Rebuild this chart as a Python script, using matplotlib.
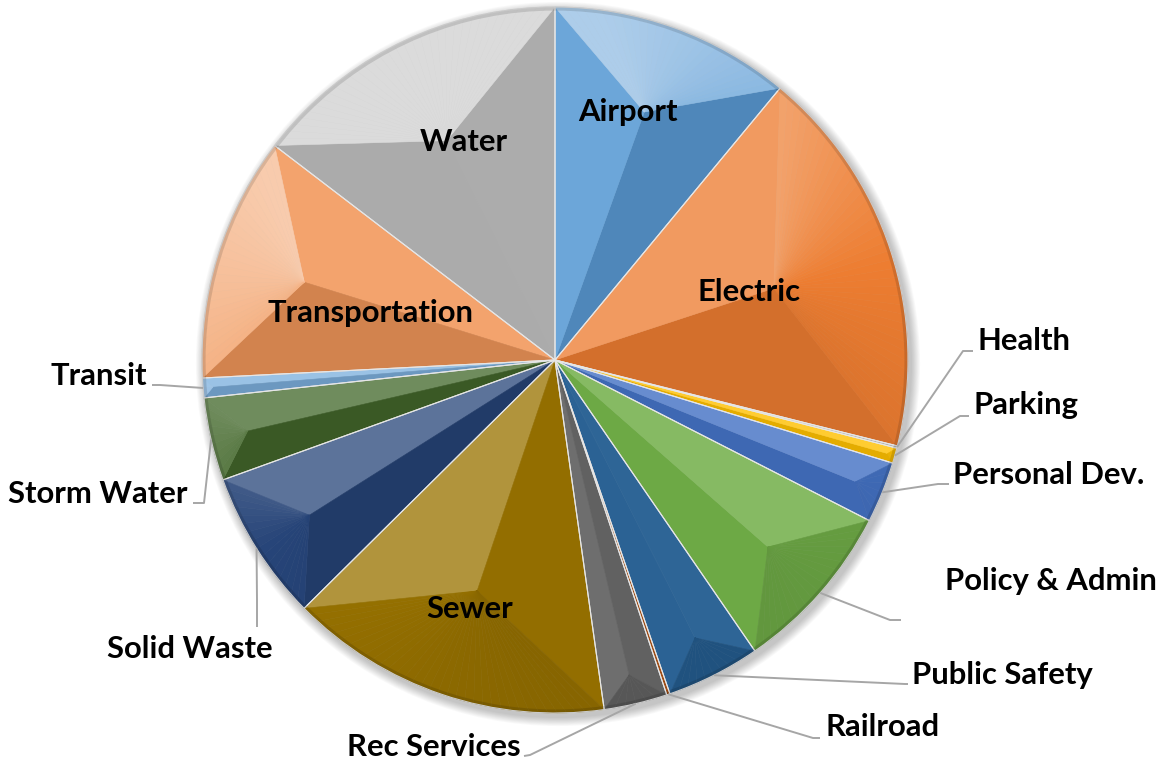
import numpy as np
import matplotlib
matplotlib.use('Agg')
import matplotlib.pyplot as plt
from matplotlib.patches import Polygon, Circle
from matplotlib.colors import to_rgb

# ---------------- data ----------------
categories = ['Airport', 'Electric', 'Health', 'Parking', 'Personal Dev.',
              'Policy & Admin', 'Public Safety', 'Railroad', 'Rec Services',
              'Sewer', 'Solid Waste', 'Storm Water', 'Transit',
              'Transportation', 'Water']
values = [11.0, 17.9, 0.1, 0.7, 2.8, 7.9, 4.3, 0.15, 2.9, 14.8, 6.9, 3.8,
          0.9, 11.2, 14.6]
colors = ['#5b9bd5', '#ed7d31', '#a5a5a5', '#ffc000', '#4472c4', '#70ad47',
          '#255e91', '#9e480e', '#636363', '#997300', '#264478', '#43682b',
          '#7cafdd', '#f1975a', '#b7b7b7']

# ---------------- layout (pixel coords, y from top) ----------------
W, H = 1163, 763
CX, CY, RAD = 555, 360, 353

inside_pos = {
    'Airport': (628, 112), 'Electric': (749, 292), 'Water': (464, 142),
    'Transportation': (370, 313), 'Sewer': (470, 609),
}
# text pos, ha, elbow, line end
outside_pos = {
    'Health': ((977, 341), 'left', (963, 351), (973, 351)),
    'Parking': ((974, 405), 'left', (960, 416), (969, 416)),
    'Personal Dev.': ((953, 475), 'left', (938, 484), (949, 484)),
    'Policy & Admin': ((945, 581), 'left', (890, 620), (901, 620)),
    'Public Safety': ((912, 675), 'left', (905, 684), (908, 684)),
    'Railroad': ((825, 727), 'left', (813, 738), (820, 738)),
    'Rec Services': ((521, 747), 'right', (530, 755), (524, 756)),
    'Solid Waste': ((190, 649), 'center', (257, 600), (257, 627)),
    'Storm Water': ((187, 494), 'right', (204, 503), (193, 503)),
    'Transit': ((147, 376), 'right', (160, 385), (152, 385)),
}

FONT = ['Lato', 'DejaVu Sans']
FS = 22.3


def P(x, y):
    return (x, H - y)


fig = plt.figure(figsize=(W / 100, H / 100), dpi=100)
ax = fig.add_axes([0, 0, 1, 1])

cx, cy = P(CX, CY)
wedges, _ = ax.pie(values, colors=colors, startangle=90, counterclock=False,
                   radius=RAD, center=(cx, cy),
                   wedgeprops=dict(linewidth=0.8, edgecolor='#e6e6e6'))
ax.set_xlim(0, W)
ax.set_ylim(0, H)
ax.set_aspect('equal')
ax.axis('off')

# soft drop shadow
for k in range(10):
    ax.add_patch(Circle((cx + 3, cy - 4), RAD + 1 + k * 0.9, facecolor='#000000',
                        alpha=0.025, edgecolor='none', zorder=0))

LANG = np.radians(115)
L = np.array([np.cos(LANG), np.sin(LANG)])


def shade(col, ang, up, down, bias=0.0):
    f = np.cos(ang) * L[0] + np.sin(ang) * L[1] + bias
    f = max(-1.0, min(1.0, f))
    c = np.array(to_rgb(col))
    if f > 0:
        return tuple(c + (1 - c) * up * f)
    return tuple(c * (1 - down * (-f)))


for w in wedges:
    col = w.get_facecolor()[:3]
    a1, a2 = np.radians(w.theta1), np.radians(w.theta2)
    c = np.array(w.center)
    r = w.r
    h = (a2 - a1) / 2
    m = (a1 + a2) / 2
    s = r / (1 + np.sin(h))
    p = c + s * np.array([np.cos(m), np.sin(m)])
    e1 = c + r * np.array([np.cos(a1), np.sin(a1)])
    e2 = c + r * np.array([np.cos(a2), np.sin(a2)])
    f1 = shade(col, a1 - np.pi / 2, 0.25, 0.14)
    f2 = shade(col, a2 + np.pi / 2, 0.25, 0.14)
    ax.add_patch(Polygon([c, e1, p], closed=True, facecolor=f1, edgecolor=f1,
                         linewidth=0.4, zorder=2))
    ax.add_patch(Polygon([c, p, e2], closed=True, facecolor=f2, edgecolor=f2,
                         linewidth=0.4, zorder=2))
    n = max(2, int(np.degrees(a2 - a1) / 1.5))
    ts = np.linspace(a1, a2, n + 1)
    for i in range(n):
        t0, t1 = ts[i], ts[i + 1]
        fc = shade(col, (t0 + t1) / 2, 0.5, 0.15, 0.15)
        q0 = c + r * np.array([np.cos(t0), np.sin(t0)])
        q1 = c + r * np.array([np.cos(t1), np.sin(t1)])
        ax.add_patch(Polygon([p, q0, q1], closed=True, facecolor=fc,
                             edgecolor=fc, linewidth=0.4, zorder=2))
    w.set_facecolor('none')
    w.set_zorder(3)

# thin darker rim along the circumference
ax.add_patch(Circle((cx, cy), RAD - 1.5, facecolor='none', edgecolor='#000000',
                    alpha=0.12, linewidth=3, zorder=3))

# labels
for name, w in zip(categories, wedges):
    if name in inside_pos:
        x, y = inside_pos[name]
        ax.text(*P(x, y), name, ha='center', va='center', fontsize=FS,
                fontweight='bold', family=FONT, color='black', zorder=5)
    elif name in outside_pos:
        (tx, ty), ha, elbow, end = outside_pos[name]
        m = np.radians((w.theta1 + w.theta2) / 2)
        sx = w.center[0] + w.r * np.cos(m)
        sy = w.center[1] + w.r * np.sin(m)
        ex, ey = P(*elbow)
        zx, zy = P(*end)
        ax.plot([sx, ex, zx], [sy, ey, zy], color='#a6a6a6', lw=1.4,
                zorder=4, solid_capstyle='butt')
        ax.text(*P(tx, ty), name, ha=ha, va='center', fontsize=FS,
                fontweight='bold', family=FONT, color='black', zorder=5)

fig.savefig('out.png', dpi=100, facecolor='white')
